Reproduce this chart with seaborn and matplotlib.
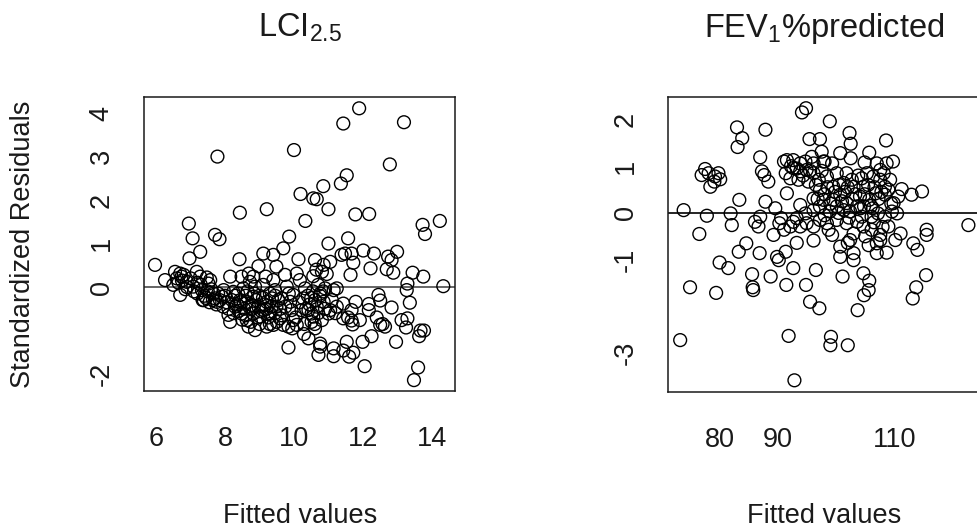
import matplotlib
matplotlib.use("Agg")
import matplotlib.pyplot as plt
import seaborn as sns

# LCI2.5 model: fitted values and standardized residuals
lci_fitted = [
    11.89, 11.43, 13.19, 7.78, 10.00, 12.78, 11.53, 11.36, 10.85, 10.19,
    10.56, 10.66, 11.00, 9.21, 8.43, 11.78, 12.18, 10.33, 14.23, 6.95,
    13.73, 13.80, 7.06, 7.71, 7.84, 9.86, 11.57, 11.00, 7.28, 9.69,
    9.11, 9.40, 6.97, 8.42, 10.13, 10.61, 11.38, 11.48, 11.67, 12.01,
    12.32, 12.73, 12.99, 12.83, 11.72, 11.05, 10.86, 8.97, 9.49, 5.97,
    12.22, 12.69, 12.88, 13.44, 13.75, 14.33, 11.64, 9.74, 10.08, 10.56,
    8.69, 9.18, 6.26, 6.70, 6.74, 6.50, 6.70, 7.18, 7.28, 7.47,
    7.52, 7.33, 7.38, 7.67, 7.77, 7.91, 7.08, 6.89, 11.15, 11.24,
    13.29, 13.27, 12.45, 12.50, 11.79, 12.17, 12.83, 13.36, 11.43, 11.43,
    11.57, 11.67, 11.70, 11.91, 12.40, 12.57, 12.64, 13.12, 13.29, 13.25,
    13.67, 13.77, 13.63, 12.96, 12.25, 11.99, 12.05, 13.60, 13.48, 11.53,
    11.43, 11.60, 11.72, 11.15, 11.15, 10.71, 10.76, 10.76, 10.42, 10.29,
    9.84, 10.61, 10.51, 10.51, 10.66, 10.61, 10.86, 11.00, 11.05, 10.76,
    10.90, 10.32, 10.17, 9.98, 9.93, 9.98, 10.08, 9.84, 9.59, 9.69,
    9.40, 9.21, 8.87, 8.68, 8.63, 8.48, 8.15, 8.10, 8.24, 8.38,
    8.53, 8.82, 8.97, 9.11, 9.21, 9.36, 9.49, 9.31, 9.02, 8.82,
    8.77, 8.63, 8.44, 8.29, 9.64, 9.79, 9.45, 9.11, 8.87, 8.72,
    9.40, 9.89, 10.22, 10.27, 10.42, 10.56, 10.81, 11.24, 11.67, 12.17,
    12.50, 7.57, 7.71, 7.96, 8.15, 8.48, 8.82, 10.81,
    6.55, 6.60, 6.65, 6.80, 6.85, 7.00, 7.10, 7.20, 7.30, 7.40,
    7.45, 7.60, 7.65, 7.80, 7.85, 8.00, 8.05, 8.20, 8.35, 8.40,
    8.55, 8.60, 8.70, 8.90, 9.00, 9.05, 9.15, 9.25, 9.30, 9.45,
    9.55, 9.60, 10.40, 10.45, 10.55, 10.70, 10.75, 10.90, 10.95, 10.65,
    8.10, 8.25, 8.30, 8.45, 8.50, 8.60, 8.65, 8.75, 8.80, 8.85,
    8.95, 9.00, 9.10, 9.20, 9.30, 9.35, 9.45, 9.50, 9.65, 9.75,
    9.85, 9.95, 10.05, 10.15, 10.30, 10.35, 10.50, 10.60, 10.70, 10.85,
    11.10, 11.20, 7.20, 7.35, 7.50, 7.75, 7.95, 6.90, 6.75, 7.55,
]
lci_resid = [
    4.11, 3.76, 3.79, 3.00, 3.15, 2.82, 2.57, 2.38, 2.32, 2.14,
    2.04, 2.02, 1.79, 1.79, 1.71, 1.67, 1.68, 1.52, 1.52, 1.46,
    1.43, 1.22, 1.12, 1.20, 1.10, 1.16, 1.12, 1.00, 0.81, 0.89,
    0.77, 0.74, 0.66, 0.64, 0.64, 0.62, 0.74, 0.77, 0.77, 0.84,
    0.77, 0.70, 0.81, 0.62, 0.56, 0.58, 0.51, 0.48, 0.47, 0.51,
    0.43, 0.41, 0.33, 0.33, 0.24, 0.02, 0.28, 0.28, 0.31, 0.25,
    0.31, 0.24, 0.16, 0.31, 0.24, 0.05, -0.18, 0.35, 0.24, 0.22,
    0.08, -0.07, -0.30, -0.15, -0.34, -0.22, 0.01, 0.12, -0.07, -0.03,
    0.08, -0.07, -0.18, -0.31, -0.34, -0.39, -0.47, -0.36, -0.38, -0.72,
    -0.70, -0.77, -0.86, -0.76, -0.70, -0.85, -0.91, -0.76, -0.72, -0.93,
    -1.00, -1.00, -1.13, -1.26, -1.13, -1.26, -1.82, -1.85, -2.14, -1.26,
    -1.46, -1.60, -1.51, -1.41, -1.59, -1.56, -1.30, -1.37, -1.18, -1.08,
    -1.39, -0.95, -0.80, -0.61, -0.45, -0.30, -0.34, -0.61, -0.53, -0.15,
    -0.03, -0.03, 0.16, -0.18, -0.53, -0.76, -0.87, -0.91, -0.72, -0.87,
    -0.87, -0.91, -0.99, -0.91, -0.76, -0.61, -0.80, -0.64, -0.11, -0.15,
    -0.03, -0.22, -0.45, -0.53, -0.34, -0.26, -0.45, -0.61, -0.68, -0.61,
    -0.41, -0.34, -0.30, -0.45, -0.26, 0.01, -0.07, 0.05, 0.01, 0.12,
    0.16, -0.34, -0.53, -0.26, -0.53, -0.68, -0.76, -0.45, -0.53, -0.53,
    -0.87, 0.16, -0.26, -0.07, 0.24, 0.24, 0.24, 0.35,
    0.35, 0.20, 0.10, 0.28, -0.05, 0.20, -0.10, -0.15, 0.05, -0.20,
    -0.25, -0.05, -0.30, -0.15, -0.30, -0.20, -0.35, -0.30, -0.40, -0.55,
    -0.50, -0.20, -0.45, -0.30, -0.20, -0.55, -0.40, -0.70, -0.15, -0.60,
    -0.30, -0.50, -0.20, -0.40, -0.10, -0.60, -0.20, -0.50, 0.30, 0.40,
    -0.50, -0.60, -0.20, -0.35, -0.75, -0.65, -0.10, -0.80, -0.50, -0.15,
    -0.70, -0.85, -0.25, -0.50, -0.85, -0.45, -0.20, -0.80, -0.65, -0.45,
    -0.15, -0.95, -0.70, -0.35, -0.85, -0.50, -0.25, -0.85, 0.05, -0.10,
    -0.30, -0.60, 0.10, -0.30, -0.10, -0.40, -0.45, 0.00, 0.15, -0.35,
]

# FEV1 %predicted model
fev_fitted = [
    73.1, 73.7, 74.8, 76.4, 77.7, 79.3, 76.8, 77.4, 78.3, 79.1,
    79.7, 80.0, 79.0, 78.0, 79.9, 81.4, 81.8, 82.0, 83.3, 82.9,
    83.8, 83.0, 83.2, 84.5, 85.5, 85.6, 85.7, 86.8, 86.0, 86.6,
    86.9, 86.9, 87.2, 87.6, 88.3, 87.8, 87.8, 88.7, 89.2, 89.5,
    89.8, 90.1, 90.2, 90.5, 91.3, 91.4, 91.5, 91.0, 91.8, 92.6,
    92.8, 93.2, 93.8, 94.1, 94.8, 94.8, 95.5, 96.1, 95.4, 96.5,
    97.1, 97.2, 97.5, 99.1, 99.0, 98.9, 102.0, 101.1, 100.7, 102.3,
    102.5, 102.0, 103.0, 103.7, 104.7, 105.7, 105.6, 104.8, 105.7, 104.9,
    108.6, 108.7, 109.8, 111.3, 113.0, 114.8, 115.6, 115.6, 114.0, 113.3,
    115.5, 113.8, 113.2, 122.8, 107.0, 108.7, 110.2, 111.1, 109.6, 110.5,
    91.5, 92.6, 93.8, 94.7, 92.6, 93.8, 94.9, 96.1, 92.1, 93.5,
    95.2, 97.0, 98.4, 99.3, 100.1, 101.8, 101.3, 99.5, 97.2, 96.1,
    97.8, 99.5, 100.7, 101.8, 100.1, 101.3, 102.4, 103.6, 104.1, 104.7,
    104.4, 105.3, 106.4, 107.6, 108.4, 109.3, 106.8, 105.7, 104.8, 106.3,
    107.2, 108.4, 106.1, 104.4, 103.6, 104.7, 106.1, 107.6, 109.0, 103.0,
    101.8, 100.1, 98.4, 98.7, 99.3, 97.2, 96.1, 94.9, 93.8, 92.6,
    94.7, 96.1, 97.2, 98.9, 92.1, 93.2, 91.0, 91.3, 96.1, 97.8,
    102.7, 103.0, 107.6, 108.4, 109.9, 110.7, 107.0, 102.5, 100.7, 107.0,
    100.7, 103.0, 102.4, 107.6, 105.6,
    95.5, 96.5, 97.5, 98.0, 98.5, 99.0, 99.8, 100.5, 101.0, 101.5,
    102.0, 102.8, 103.3, 103.8, 104.2, 104.9, 105.5, 106.0, 106.6, 107.3,
    107.8, 108.2, 109.0, 109.5, 105.0, 106.5, 108.0, 102.2, 100.4, 98.0,
    96.8, 94.3, 93.2, 92.2, 95.8, 98.0,
]
fev_resid = [
    -2.72, 0.06, -1.59, -0.45, -0.06, -1.71, 0.81, 0.94, 0.56, 0.78,
    0.85, 0.72, 0.67, 0.85, -1.06, -1.18, -0.01, -0.26, 0.28, 1.83,
    1.60, 1.41, -0.83, -0.65, -1.31, -1.59, -1.65, -0.86, -0.19, -0.29,
    -0.08, 1.19, 0.89, 0.81, 0.67, 1.78, 0.24, -1.36, -0.47, 0.10,
    -0.94, -1.01, -0.22, -0.11, -0.83, -1.54, 0.42, 1.10, -2.63, -1.18,
    -3.58, -0.64, 0.17, 2.15, 2.24, -1.54, -1.90, -0.59, 1.58, -1.22,
    -2.04, 1.58, 1.31, -2.65, -2.83, 1.96, -2.83, -1.36, -0.94, 1.71,
    1.48, -0.64, -1.01, -2.08, -1.29, -1.45, -1.65, -1.76, 1.29, 1.08,
    1.55, 1.06, 1.10, 0.51, 0.39, 0.46, -0.36, -0.47, -0.79, -0.65,
    -1.33, -1.59, -1.83, -0.26, -0.86, -0.85, -0.58, -0.44, 0.03, -0.01,
    1.13, 1.13, 1.06, 1.10, 0.96, 0.89, 0.92, 0.85, 0.74, 0.71,
    0.67, 0.71, 0.78, 1.06, 0.85, 0.85, 0.64, 0.56, 0.49, 0.31,
    0.28, 0.28, 0.39, 0.21, 0.14, 0.06, 0.03, 0.14, 0.35, 0.56,
    0.74, 0.85, 0.78, 0.71, 0.56, 0.71, 0.42, 0.28, 0.14, 0.10,
    -0.01, -0.08, -0.08, -0.08, -0.19, -0.29, -0.36, -0.47, -0.29, -0.44,
    -0.22, -0.15, -0.22, -0.36, -0.47, -0.15, -0.29, -0.22, -0.29, -0.19,
    -0.01, 0.06, 0.14, 0.03, -0.29, -0.11, -0.36, 0.85, 1.06, 1.10,
    0.71, 0.56, 0.92, 0.39, 0.21, 0.35, 1.06, 1.17, 1.28, -0.65,
    -0.72, -0.86, -0.58, -0.58, -0.69,
    0.90, 0.60, 0.90, 0.40, 0.55, 0.20, 0.45, 0.60, 0.25, 0.45,
    0.55, 0.30, 0.40, 0.80, 0.10, 0.40, 0.60, 0.15, 0.55, 0.30,
    0.45, 0.85, 0.50, 0.20, -0.50, -0.20, -0.30, -0.10, 0.00, -0.05,
    0.30, 0.80, 0.95, 1.00, 1.20, 1.10,
]

sns.set_style("white")
plt.rcParams["font.family"] = ["Liberation Sans", "DejaVu Sans"]
plt.rcParams["mathtext.fontset"] = "custom"
plt.rcParams["mathtext.rm"] = "Liberation Sans"
plt.rcParams["mathtext.it"] = "Liberation Sans"
plt.rcParams["mathtext.default"] = "regular"

ink = "#1a1a1a"
fs = 19.5

fig = plt.figure(figsize=(9.78, 5.29), dpi=100)
ax1 = fig.add_axes([144 / 978, 1 - 391 / 529, 311 / 978, 294 / 529])
ax2 = fig.add_axes([668 / 978, 1 - 392 / 529, 312 / 978, 295 / 529])


def r_panel(ax, x, y, xlim, ylim, xticks, xlabels, yticks, ylabels, zcolor):
    sns.scatterplot(x=x, y=y, ax=ax, s=85, facecolors="none",
                    edgecolor="black", linewidth=1.0, legend=False)
    ax.axhline(0, color=zcolor, lw=1.2, zorder=0)
    ax.set_xlim(*xlim)
    ax.set_ylim(*ylim)
    ax.set_xticks(xticks)
    ax.set_xticklabels(xlabels)
    ax.set_yticks(yticks)
    ax.set_yticklabels(ylabels, rotation=90, va="center")
    ax.tick_params(direction="out", length=13, width=1.1, color=ink,
                   labelsize=fs, labelcolor=ink)
    ax.tick_params(axis="x", pad=12)
    ax.tick_params(axis="y", pad=8)
    ax.set_xlabel("")
    ax.set_ylabel("")
    for sp in ax.spines.values():
        sp.set_visible(True)
        sp.set_color(ink)
        sp.set_linewidth(1.1)


r_panel(ax1, lci_fitted, lci_resid, (5.65, 14.67), (-2.39, 4.37),
        [6, 8, 10, 12, 14], ["6", "8", "10", "12", "14"],
        [4, 3, 2, 1, 0, -1, -2], ["4", "3", "2", "1", "0", "", "-2"], "#4a4a4a")
r_panel(ax2, fev_fitted, fev_resid, (71.0, 124.8), (-3.83, 2.48),
        [80, 90, 100, 110, 120], ["80", "90", "", "110", ""],
        [2, 1, 0, -1, -2, -3], ["2", "1", "0", "-1", "", "-3"], "black")

# titles and axis labels placed as in the base-R layout
fig.text(300 / 978, 1 - 37 / 529, r"LCI$_{2.5}$", ha="center", va="baseline",
         fontsize=23.5, color=ink)
fig.text(824 / 978, 1 - 37 / 529, r"FEV$_{1}$%predicted", ha="center",
         va="baseline", fontsize=23.5, color=ink)
for cx in (300 / 978, 824 / 978):
    fig.text(cx, 1 - 523 / 529, "Fitted values", ha="center", va="baseline",
             fontsize=fs, color=ink)
fig.text(23 / 978, 1 - 244 / 529, "Standardized Residuals", rotation=90,
         ha="center", va="center", fontsize=fs, color=ink)

fig.savefig("out.png", dpi=100)
